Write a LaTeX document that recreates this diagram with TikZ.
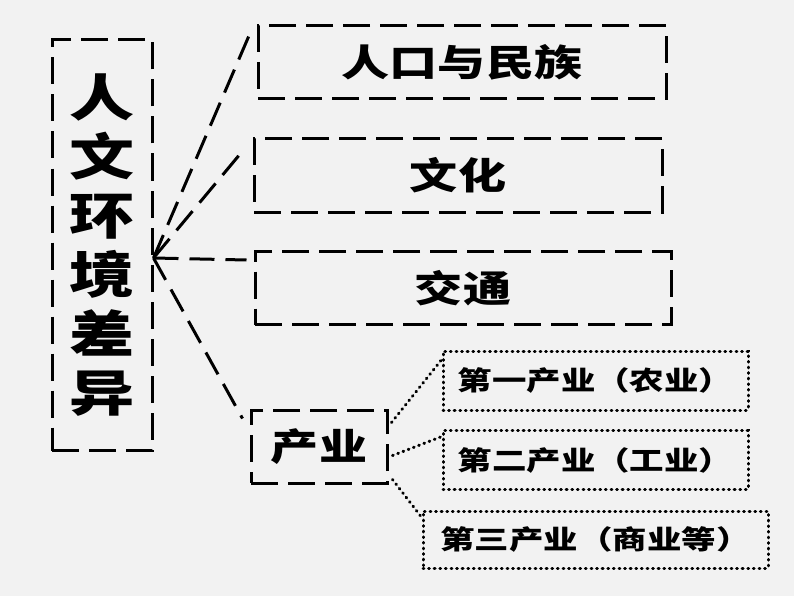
\documentclass[tikz,border=0pt]{standalone}
\usepackage{fontspec}
\newfontfamily\cjk[FakeStretch=1.3]{Noto Sans CJK SC}
\usetikzlibrary{positioning,calc}
\definecolor{paper}{HTML}{F2F2F2}

\begin{document}
\begin{tikzpicture}[x=1pt,y=-1pt,
    every node/.style={font=\cjk\bfseries, inner sep=0pt, align=center},
    box/.style={draw, line width=3pt, dash pattern=on 27pt off 10pt,
      minimum height=73pt, font=\cjk\bfseries\fontsize{37}{42}\selectfont},
    dotbox/.style={draw, line width=3pt, line cap=round,
      dash pattern=on 0.8pt off 4.8pt, minimum height=59pt,
      font=\cjk\bfseries\fontsize{26.5}{30}\selectfont},
    link/.style={line width=3pt, dash pattern=on 25pt off 11pt},
    dotlink/.style={line width=3pt, line cap=round, dash pattern=on 0.8pt off 4.8pt}]
  \fill[paper] (0,0) rectangle (794,596);
  % left title
  \node [box, minimum width=100pt, minimum height=411pt,
    font=\cjk\bfseries\fontsize{50}{59}\selectfont] (lbox) at (102,245)
    {人\\文\\环\\境\\差\\异};
  % main branches
  \node [box, minimum width=408pt] (b1) at (462,62.5) {人口与民族};
  \node [box, minimum width=408pt] (b2) at (458,175.5) {文化};
  \node [box, minimum width=416pt] (b3) at (463,288) {交通};
  \node [box, minimum width=136pt] (cy) at (319,446.5) {产业};
  % industries
  \node [dotbox, minimum width=305pt] (d1) at (595.5,380.5) {第一产业（农业）};
  \node [dotbox, minimum width=305pt] (d2) at (595.5,460) {第二产业（工业）};
  \node [dotbox, minimum width=345pt, minimum height=57pt] (d3) at (595.5,539.5) {第三产业（商业等）};
  % connectors
  \coordinate (hub) at ([shift={(0,13)}]lbox.east);
  \foreach \b in {b1,b2,b3,cy}
    \draw [link] (hub) -- ([shift={(-7,10)}]\b.north west);
  \draw [dotlink] ([shift={(3,-24)}]cy.east) -- ([shift={(1,9)}]d1.north west);
  \draw [dotlink] ([shift={(4,9)}]cy.east) -- ([shift={(-1,8)}]d2.north west);
  \draw [dotlink] ([shift={(4,33)}]cy.east) -- ([shift={(1,9)}]d3.north west);
\end{tikzpicture}
\end{document}
